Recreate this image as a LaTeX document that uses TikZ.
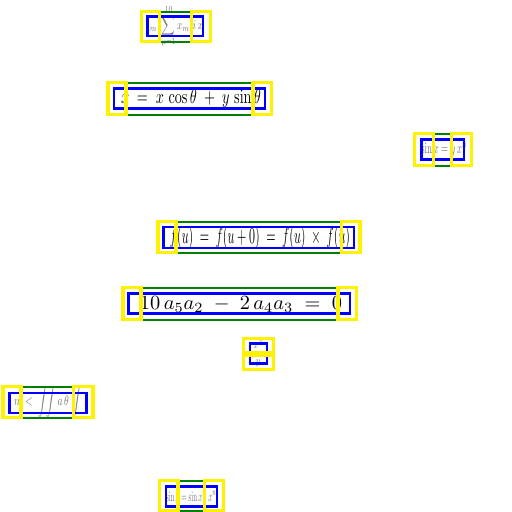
\documentclass[tikz,border=0pt]{standalone}
\usepackage{amsmath}
\usepackage{graphicx}
\newcommand{\inkfit}[3]{\resizebox{#1pt}{#2pt}{$\displaystyle #3$}}
\tikzset{
  greenbox/.style={draw=green!50!black, line width=2pt},
  bluebox/.style={draw=blue, line width=2.3pt},
  yellowbox/.style={draw=yellow, line width=3.3pt},
  inkbig/.style={black, inner sep=0pt},
  inksmall/.style={black!55, inner sep=0pt},
}
\begin{document}
\begin{tikzpicture}[x=1pt,y=-1pt]
\useasboundingbox[fill=white] (0,0) rectangle (512,512);

\node[inkbig] (eqa) at (191,98.5) {\inkfit{140}{14}{x \;=\; x\,\cos\theta \;+\; y\,\sin\theta}};
\node[inkbig] (eqb) at (260,238) {\inkfit{180}{17}{f(u) \;=\; f(u+0) \;=\; f(u)\;\times\; f(u)}};
\node[inkbig] (eqc) at (241,304.5) {\inkfit{202}{13}{10\,a_5a_2 \;-\; 2\,a_4a_3 \;=\; 0}};
\node[inksmall] (eqd) at (175,26.5) {\inkfit{56}{24}{l_m\ \sum_{\mu=1}^{10} x_m\ i\,x}};
\node[inksmall] (eqe) at (444,149.5) {\inkfit{46}{11}{\sin x = y\,x^n}};
\node[inksmall] (eqf) at (258,353) {\inkfit{11}{17}{\frac{x^2}{y}}};
\node[inksmall] (eqg) at (48,402) {\inkfit{68}{19}{n \;<\; \int\!\!\int a\,\theta\,\int}};
\node[inksmall] (eqh) at (191,496) {\inkfit{50}{10}{\sin x = \sin x^n\ x^n}};

% xa..xd: the yellow pair, ua,ub,va,vb: the blue box
\foreach \xa/\xb/\xc/\xd/\ya/\yb/\ua/\ub/\va/\vb in {
  141.5/159.5/191.5/210.5/11.5/41.5/147.5/203/16.5/36,
  108/126/253/271.5/82.5/114.5/114/265/88.5/108.5,
  414.5/433.5/451.5/471.5/133.5/165.5/421.5/464/139.5/159.5,
  158/176/341.5/360/221.5/252.5/163.5/354/227/248,
  123/141/338/356.5/287.5/319.5/128.5/350/293.5/313.5,
  3/21/73.5/93/386.5/417.5/9.5/86.5/393/413,
  159.5/178/204.5/223.5/480.5/510.5/166/217/486.5/506.5}{
  \draw[greenbox] (\xb,\ya) rectangle (\xc,\yb);
  \draw[bluebox] (\ua,\va) rectangle (\ub,\vb);
  \draw[yellowbox] (\xa,\ya) rectangle (\xb,\yb);
  \draw[yellowbox] (\xc,\ya) rectangle (\xd,\yb);
}

% this one has its yellow pair one above the other
\draw[bluebox] (250,343.5) rectangle (267,363.5);
\draw[yellowbox] (243.5,338.5) rectangle (273.5,352.5);
\draw[yellowbox] (243.5,355) rectangle (273.5,369.5);
\end{tikzpicture}
\end{document}
